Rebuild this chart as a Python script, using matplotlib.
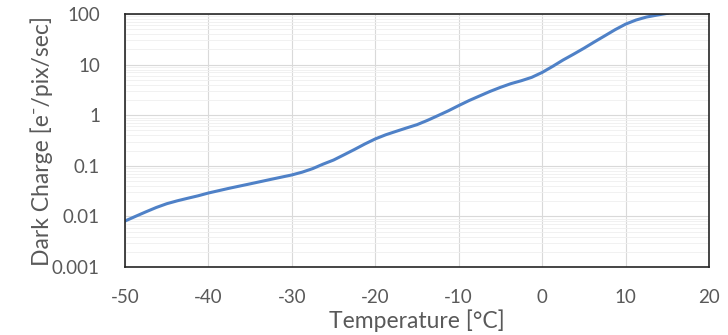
import matplotlib
matplotlib.use("Agg")
import matplotlib.pyplot as plt
from matplotlib.ticker import LogLocator, FixedLocator, FuncFormatter

# values
temperature = [-50, -48.75, -47.5, -46.25, -45, -43.75, -42.5, -41.25, -40, -37.5, -35, -32.5,
               -30, -28.75, -27.5, -26.25, -25, -23.75, -22.5, -21.25, -20, -18.75, -17.5, -16.25,
               -15, -13.75, -12.5, -11.25, -10, -8.75, -7.5, -6.25, -5, -3.75, -2.5, -1.25,
               0, 1.25, 2.5, 3.75, 5, 6.25, 7.5, 8.75, 10, 11.25, 12.5, 13.75, 15]
dark_charge = [0.0081, 0.0100, 0.0123, 0.0150, 0.0178, 0.0203, 0.0228, 0.0255, 0.029, 0.036, 0.044, 0.054,
               0.066, 0.075, 0.088, 0.108, 0.13, 0.165, 0.21, 0.27, 0.34, 0.41, 0.48, 0.56,
               0.65, 0.79, 0.98, 1.22, 1.55, 1.95, 2.4, 2.95, 3.55, 4.2, 4.8, 5.6,
               7.0, 9.2, 12.3, 16, 21, 28, 37, 49, 63, 76, 87, 95, 103]
x_ticks = [-50, -40, -30, -20, -10, 0, 10, 20]
y_ticks = [0.001, 0.01, 0.1, 1, 10, 100]
y_tick_labels = ["0.001", "0.01", "0.1", "1", "10", "100"]

TEXT = "#595959"
plt.rcParams["font.family"] = ["Lato", "DejaVu Sans"]
plt.rcParams["axes.unicode_minus"] = False

fig = plt.figure(figsize=(7.28, 3.35), dpi=100)
ax = fig.add_axes([125 / 728, 1 - 267 / 335, (709 - 125) / 728, (267 - 14) / 335])

ax.plot(temperature, dark_charge, color="#4F81C7", lw=2.2, solid_joinstyle="round")

ax.set_yscale("log")
ax.set_xlim(-50, 20)
ax.set_ylim(0.001, 100)
ax.xaxis.set_major_locator(FixedLocator(x_ticks))
ax.yaxis.set_major_locator(FixedLocator(y_ticks))
ax.yaxis.set_major_formatter(FuncFormatter(lambda v, p: y_tick_labels[y_ticks.index(v)] if v in y_ticks else ""))
ax.yaxis.set_minor_locator(LogLocator(base=10, subs=range(2, 10)))
ax.yaxis.set_minor_formatter(FuncFormatter(lambda v, p: ""))

ax.grid(True, which="major", color="#D9D9D9", lw=0.8)
ax.grid(True, which="minor", axis="y", color="#EFEFEF", lw=0.6)
ax.set_axisbelow(True)
ax.tick_params(which="both", length=0, labelsize=13.5, labelcolor=TEXT)
ax.tick_params(axis="x", pad=16)
ax.tick_params(axis="y", pad=18)
for s in ax.spines.values():
    s.set_color("#262626")
    s.set_linewidth(1.2)

ax.set_xlabel("Temperature [°C]", fontsize=16.5, color=TEXT, labelpad=2)
ax.set_ylabel("Dark Charge [e⁻/pix/sec]", fontsize=16.5, color=TEXT, labelpad=-1)

fig.savefig("out.png", dpi=100)
